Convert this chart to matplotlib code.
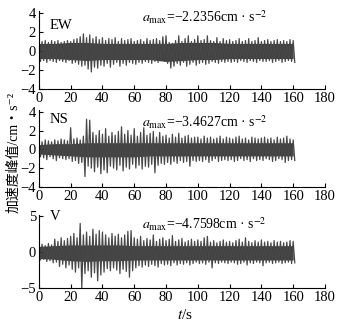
import numpy as np
import matplotlib
matplotlib.use('Agg')
import matplotlib.pyplot as plt

plt.rcParams['font.family'] = ['Liberation Serif', 'Noto Sans CJK SC', 'DejaVu Sans']
plt.rcParams['mathtext.fontset'] = 'stix'

# envelope peaks, one value every 2 s (t = 0..160)
ew_hi = [1.1, 1.0, 1.1, 0.9, 1.1, 1.0, 1.1, 0.9, 1.0, 1.1, 1.0, 1.2, 1.3,
         1.5, 1.8, 1.4, 1.7, 1.3, 1.5, 1.2, 1.4,
         1.1, 1.3, 1.2, 1.4, 1.0, 1.3, 1.1, 1.2, 1.3, 1.0,
         1.1, 1.2, 1.0, 1.3, 1.1, 1.2, 1.3, 1.1, 1.5, 1.6,
         0.9, 0.8, 1.1, 1.6, 1.0, 1.3, 1.6, 1.0, 1.2, 1.6,
         1.1, 1.2, 1.6, 1.1, 1.0, 1.4, 1.0, 1.3, 1.1, 1.2,
         1.0, 1.1, 1.3, 1.0, 1.1, 1.3, 1.0, 1.1, 1.4, 1.0,
         1.1, 1.2, 1.0, 1.1, 1.2, 1.0, 1.1, 1.0, 1.2, 1.1]
ew_lo = [-1.1, -1.0, -1.2, -1.0, -1.1, -1.2, -1.0, -1.1, -1.2, -1.0, -1.3, -1.2, -1.4,
         -1.6, -1.5, -1.9, -2.2, -1.7, -1.8, -1.5, -1.6,
         -1.3, -1.7, -1.4, -1.2, -1.6, -1.3, -1.5, -1.2, -1.3, -1.4,
         -1.2, -1.3, -1.1, -1.2, -1.3, -1.1, -1.2, -1.0, -1.1, -1.3,
         -1.8, -1.6, -1.3, -1.5, -1.2, -1.6, -1.4, -1.2, -1.5, -1.3,
         -1.2, -1.4, -1.3, -1.1, -1.2, -1.3, -1.1, -1.2, -1.1, -1.2,
         -1.1, -1.2, -1.0, -1.1, -1.2, -1.0, -1.1, -1.2, -1.0, -1.1,
         -1.1, -1.0, -1.2, -1.1, -1.0, -1.2, -1.1, -1.0, -1.1, -1.2]

ns_hi = [0.9, 0.8, 1.0, 0.9, 0.8, 1.0, 0.9, 1.1, 1.0, 0.9,
         2.3, 1.1, 1.2, 1.0, 1.4, 3.2, 3.1, 1.8, 1.5, 2.0,
         1.6, 2.2, 1.4, 1.8, 1.5, 1.9, 2.4, 1.6, 2.0, 1.5,
         2.2, 1.4, 1.8, 2.3, 1.5, 1.7, 1.9, 1.3, 1.8, 1.4,
         1.5, 1.2, 1.6, 1.3, 1.7, 1.2, 1.4, 1.5, 1.2, 1.3,
         1.3, 1.1, 1.4, 1.2, 1.3, 1.1, 1.2, 1.4, 1.1, 1.3,
         1.2, 1.1, 1.3, 1.4, 1.1, 1.2, 1.0, 1.3, 1.2, 1.1,
         1.2, 1.3, 1.1, 1.2, 1.0, 1.3, 1.1, 1.2, 1.4, 1.1,
         1.0]
ns_lo = [-0.8, -0.9, -1.1, -0.8, -1.0, -1.2, -0.9, -1.0, -1.1, -1.0,
         -1.3, -1.2, -1.5, -1.4, -2.9, -1.8, -2.0, -2.4, -1.9, -2.6,
         -2.2, -2.5, -1.8, -2.0, -2.2, -1.7, -2.3, -1.9, -2.1, -1.6,
         -2.0, -1.7, -2.1, -1.8, -1.9, -1.6, -2.5, -1.7, -1.5, -1.6,
         -1.4, -1.6, -1.3, -1.5, -1.2, -1.4, -1.3, -1.8, -1.2, -1.3,
         -1.2, -1.3, -1.1, -1.4, -1.2, -1.0, -1.3, -1.2, -1.1, -1.2,
         -1.1, -1.3, -1.2, -1.0, -1.2, -1.1, -1.3, -1.0, -1.2, -1.1,
         -1.2, -1.0, -1.1, -1.3, -1.2, -1.0, -1.1, -1.4, -1.2, -1.1,
         -1.2]

v_hi = [1.0, 1.1, 0.9, 1.2, 1.0, 1.8, 1.5, 2.0, 1.6, 1.9,
        2.2, 2.6, 2.0, 4.0, 2.4, 2.8, 2.2, 3.2, 2.5, 3.0,
        2.8, 2.4, 2.0, 2.6, 2.2, 2.5, 2.0, 2.4, 2.9, 3.0,
        2.0, 1.8, 2.2, 1.6, 1.9, 1.7, 2.4, 1.5, 1.8, 2.0,
        1.6, 1.8, 2.3, 1.5, 1.7, 1.9, 1.4, 1.6, 1.8, 1.5,
        1.7, 1.5, 2.0, 2.2, 1.4, 1.6, 1.3, 1.5, 1.7, 1.4,
        1.5, 1.3, 1.6, 1.8, 1.4, 2.0, 1.5, 1.3, 1.6, 1.4,
        1.7, 1.4, 1.5, 1.3, 1.6, 1.4, 1.5, 1.3, 1.4, 1.6,
        1.5]
v_lo = [-1.1, -1.0, -1.3, -1.2, -1.5, -1.4, -2.0, -1.7, -2.2, -1.8,
        -2.4, -2.8, -2.2, -5.0, -3.0, -2.6, -3.5, -2.9, -4.0, -3.2,
        -2.8, -2.3, -2.6, -2.2, -2.5, -3.0, -2.4, -2.7, -3.5, -2.6,
        -2.2, -1.9, -2.1, -1.8, -2.0, -1.7, -1.9, -2.1, -1.6, -1.8,
        -1.7, -1.9, -1.5, -1.8, -1.6, -1.7, -1.5, -1.8, -1.6, -1.4,
        -1.6, -1.5, -1.7, -1.4, -2.2, -1.5, -1.6, -1.4, -1.5, -1.6,
        -1.4, -1.5, -1.7, -1.6, -1.4, -1.8, -1.5, -1.6, -1.4, -1.5,
        -1.9, -1.5, -1.4, -1.6, -1.5, -1.4, -1.6, -1.5, -1.4, -1.6,
        -1.5]

# dense dark core of each trace, read every 10 s (t = 0..160)
core_t = list(range(0, 161, 10))
ew_core_hi = [0.8, 0.8, 0.9, 0.9, 0.8, 0.8, 0.8, 0.8, 0.8, 0.9, 0.9, 0.9, 0.8, 0.8, 0.8, 0.8, 0.8]
ew_core_lo = [-0.8, -0.8, -0.9, -1.0, -0.9, -0.9, -0.9, -0.9, -1.1, -1.0, -0.9, -0.9, -0.8, -0.8, -0.8, -0.8, -0.8]
ns_core_hi = [0.5, 0.6, 0.6, 0.7, 0.7, 0.7, 0.7, 0.7, 0.7, 0.7, 0.7, 0.7, 0.7, 0.7, 0.7, 0.7, 0.7]
ns_core_lo = [-0.5, -0.6, -0.7, -0.8, -0.8, -0.8, -0.8, -0.7, -0.7, -0.7, -0.7, -0.7, -0.7, -0.7, -0.7, -0.7, -0.7]
v_core_hi = [0.8, 0.9, 1.0, 1.0, 1.0, 1.0, 0.9, 0.9, 0.9, 0.9, 0.9, 0.9, 0.9, 0.9, 0.9, 0.9, 0.9]
v_core_lo = [-0.9, -1.0, -1.2, -1.3, -1.2, -1.2, -1.1, -1.1, -1.1, -1.1, -1.1, -1.1, -1.1, -1.1, -1.1, -1.1, -1.1]

names = ['EW', 'NS', 'V']
amax = ['\u22122.2356', '\u22123.4627', '\u22124.7598']
ylims = [(-4, 4.2), (-4, 4.2), (-5, 5.2)]
yticks = [[-4, -2, 0, 2, 4], [-4, -2, 0, 2, 4], [-5, 0, 5]]


def zigzag(hi, lo):
    # alternate positive and negative peaks, 1 s apart
    t = np.arange(2 * len(hi))
    a = np.empty(2 * len(hi))
    a[0::2] = hi
    a[1::2] = lo
    return t, a


fig = plt.figure(figsize=(3.41, 3.25), dpi=100)
rects = [[0.114, 0.726, 0.839, 0.240],
         [0.114, 0.425, 0.839, 0.237],
         [0.114, 0.114, 0.839, 0.225]]
label_y = [0.82, 0.87, 0.98]
ann_y = [0.86, 0.78, 0.81]

traces = [(ew_hi, ew_lo, ew_core_hi, ew_core_lo),
          (ns_hi, ns_lo, ns_core_hi, ns_core_lo),
          (v_hi, v_lo, v_core_hi, v_core_lo)]

for i, (hi, lo, chi, clo) in enumerate(traces):
    ax = fig.add_axes(rects[i])
    t, a = zigzag(hi, lo)
    ax.fill_between(core_t, clo, chi, color='#404040', lw=0)
    ax.plot(t, a, color='#474747', lw=0.9)
    ax.set_xlim(0, 180)
    ax.set_ylim(*ylims[i])
    ax.set_xticks(range(0, 181, 20))
    ax.set_yticks(yticks[i])
    ax.set_yticklabels([str(v).replace('-', '\u2212') for v in yticks[i]])
    ax.spines['top'].set_visible(False)
    ax.spines['right'].set_visible(False)
    ax.tick_params(direction='in', length=3, width=0.8, labelsize=10.5, pad=2)
    ax.text(0.038, label_y[i], names[i], transform=ax.transAxes,
            fontsize=10.5, va='center')
    ax.text(0.36, ann_y[i], r'$a_{\rm max}$=' + amax[i] + 'cm \u00b7 s$^{-2}$',
            transform=ax.transAxes, fontsize=10, va='baseline')

fig.text(0.04, 0.53, '加速度峰值/cm\u30fbs\u207b\u00b2', rotation=90,
         ha='center', va='center', fontsize=10)
fig.text(0.543, 0.03, '$t$/s', ha='center', va='center', fontsize=11)

fig.savefig('out.png', dpi=100)
